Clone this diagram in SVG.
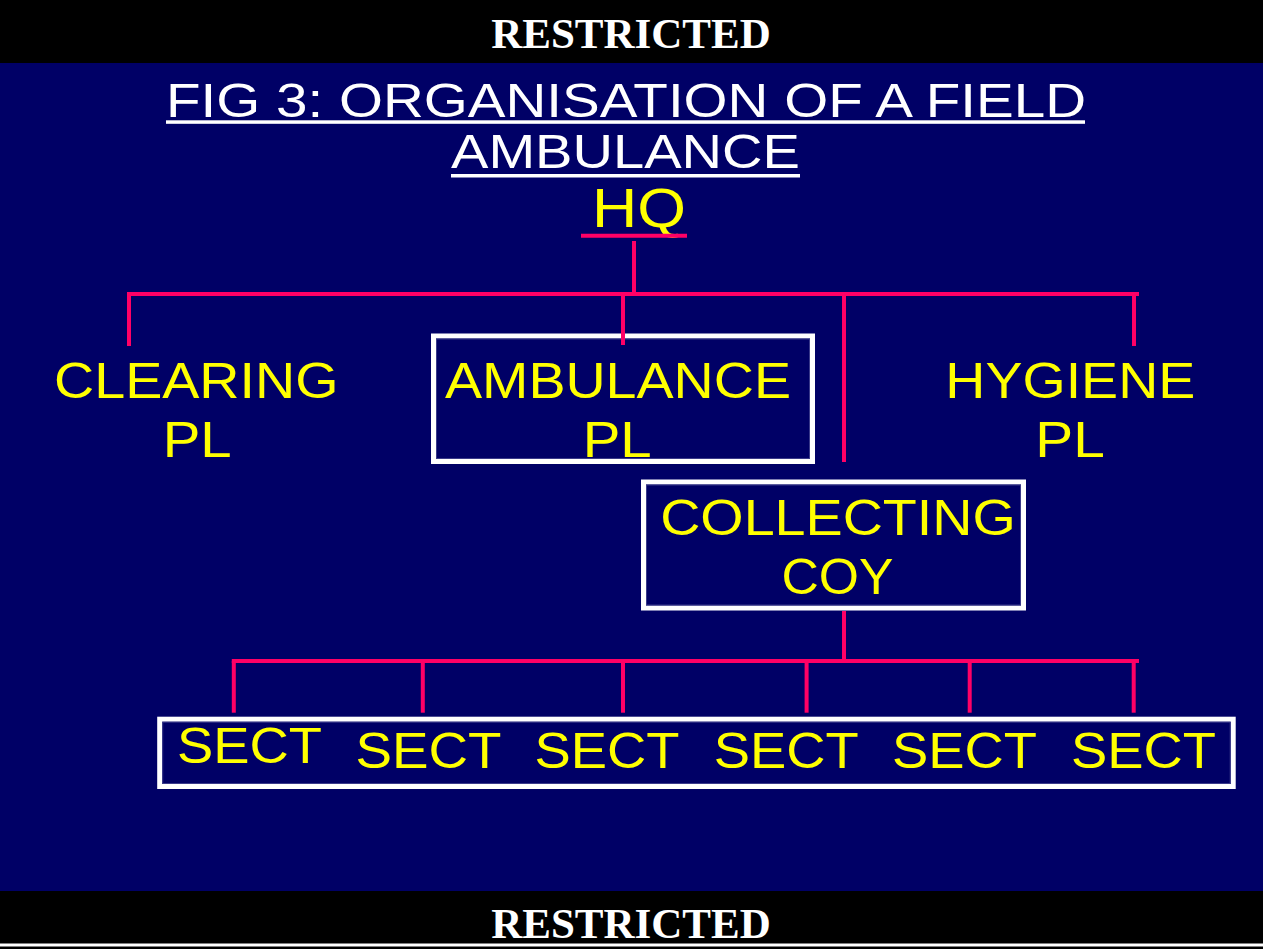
<svg xmlns="http://www.w3.org/2000/svg" width="1263" height="949" viewBox="0 0 1263 949">
  <defs>
    <style>
      .bar { fill: #000000; }
      .banner { font-family: "Liberation Serif", "Times New Roman", serif; font-weight: bold; font-size: 43px; fill: #FFFFFF; text-anchor: middle; }
      .title { font-family: "Liberation Sans", Arial, sans-serif; font-size: 49px; fill: #FFFFFF; }
      .lbl { font-family: "Liberation Sans", Arial, sans-serif; font-size: 50px; fill: #FFFF00; }
      .box { fill: none; stroke: #FFFFFF; stroke-width: 5; }
      .inner { fill: none; stroke: #3a3a8a; stroke-width: 1; }
      .conn { stroke: #FF0066; stroke-width: 4; fill: none; }
    </style>
  </defs>

  <rect x="0" y="0" width="1263" height="949" fill="#000066"/>

  <g id="top-banner">
    <rect class="bar" x="0" y="0" width="1263" height="63"/>
    <text class="banner" x="631" y="47.7">RESTRICTED</text>
  </g>

  <g id="bottom-banner">
    <rect class="bar" x="0" y="891" width="1263" height="58"/>
    <rect x="0" y="943.5" width="1263" height="3" fill="#FFFFFF"/>
    <text class="banner" x="631" y="938.3">RESTRICTED</text>
  </g>

  <g id="title">
    <text class="title" x="166" y="116.7" textLength="920" lengthAdjust="spacingAndGlyphs">FIG 3: ORGANISATION OF A FIELD</text>
    <rect x="166" y="120.3" width="919" height="3.5" fill="#FFFFFF"/>
    <text class="title" x="451" y="168.3" textLength="349" lengthAdjust="spacingAndGlyphs">AMBULANCE</text>
    <rect x="451" y="174" width="349" height="3.5" fill="#FFFFFF"/>
  </g>

  <g id="node-hq">
    <text class="lbl" x="592" y="226.7" style="font-size:56px" textLength="94" lengthAdjust="spacingAndGlyphs">HQ</text>
  </g>

  <g id="node-clearing">
    <text class="lbl" x="54" y="398.3" textLength="284.5" lengthAdjust="spacingAndGlyphs">CLEARING</text>
    <text class="lbl" x="162.7" y="456.7" textLength="69" lengthAdjust="spacingAndGlyphs">PL</text>
  </g>

  <g id="node-ambulance">
    <rect class="box" x="433.5" y="336" width="379" height="125.5"/>
    <rect class="inner" x="436.5" y="339" width="373" height="119.5"/>
    <text class="lbl" x="445" y="398.3" textLength="346" lengthAdjust="spacingAndGlyphs">AMBULANCE</text>
    <text class="lbl" x="582.7" y="456.7" textLength="69" lengthAdjust="spacingAndGlyphs">PL</text>
  </g>

  <g id="node-hygiene">
    <text class="lbl" x="945.3" y="398.3" textLength="250" lengthAdjust="spacingAndGlyphs">HYGIENE</text>
    <text class="lbl" x="1035.3" y="456.7" textLength="69.5" lengthAdjust="spacingAndGlyphs">PL</text>
  </g>

  <g id="node-collecting">
    <rect class="box" x="643.5" y="482" width="380" height="126"/>
    <rect class="inner" x="646.5" y="485" width="374" height="120"/>
    <text class="lbl" x="660.2" y="535" textLength="355.6" lengthAdjust="spacingAndGlyphs">COLLECTING</text>
    <text class="lbl" x="781.5" y="594" textLength="112" lengthAdjust="spacingAndGlyphs">COY</text>
  </g>

  <g id="node-sects">
    <rect class="box" x="159.7" y="719.2" width="1073.5" height="67.3"/>
    <rect class="inner" x="162.7" y="722.2" width="1067.5" height="61.3"/>
    <text class="lbl" x="177" y="763.3" textLength="145" lengthAdjust="spacingAndGlyphs">SECT</text>
    <text class="lbl" x="355.5" y="767.7" textLength="146" lengthAdjust="spacingAndGlyphs">SECT</text>
    <text class="lbl" x="534.4" y="767.7" textLength="145" lengthAdjust="spacingAndGlyphs">SECT</text>
    <text class="lbl" x="713.7" y="767.7" textLength="145" lengthAdjust="spacingAndGlyphs">SECT</text>
    <text class="lbl" x="892" y="767.7" textLength="145" lengthAdjust="spacingAndGlyphs">SECT</text>
    <text class="lbl" x="1071" y="767.7" textLength="145" lengthAdjust="spacingAndGlyphs">SECT</text>
  </g>

  <g id="connectors">
    <line class="conn" x1="581" y1="235.7" x2="687" y2="235.7"/>
    <line class="conn" x1="634" y1="241" x2="634" y2="294"/>
    <line class="conn" x1="127" y1="294" x2="1139" y2="294"/>
    <line class="conn" x1="129" y1="294" x2="129" y2="346"/>
    <line class="conn" x1="623" y1="294" x2="623" y2="345"/>
    <line class="conn" x1="844" y1="294" x2="844" y2="462"/>
    <line class="conn" x1="1134" y1="294" x2="1134" y2="346"/>
    <line class="conn" x1="844" y1="611" x2="844" y2="661"/>
    <line class="conn" x1="231.8" y1="661" x2="1139" y2="661"/>
    <line class="conn" x1="233.8" y1="661" x2="233.8" y2="712.7"/>
    <line class="conn" x1="422.8" y1="661" x2="422.8" y2="712.7"/>
    <line class="conn" x1="623" y1="661" x2="623" y2="712.7"/>
    <line class="conn" x1="806.6" y1="661" x2="806.6" y2="712.7"/>
    <line class="conn" x1="969.7" y1="661" x2="969.7" y2="712.7"/>
    <line class="conn" x1="1133.7" y1="661" x2="1133.7" y2="712.7"/>
  </g>
</svg>
